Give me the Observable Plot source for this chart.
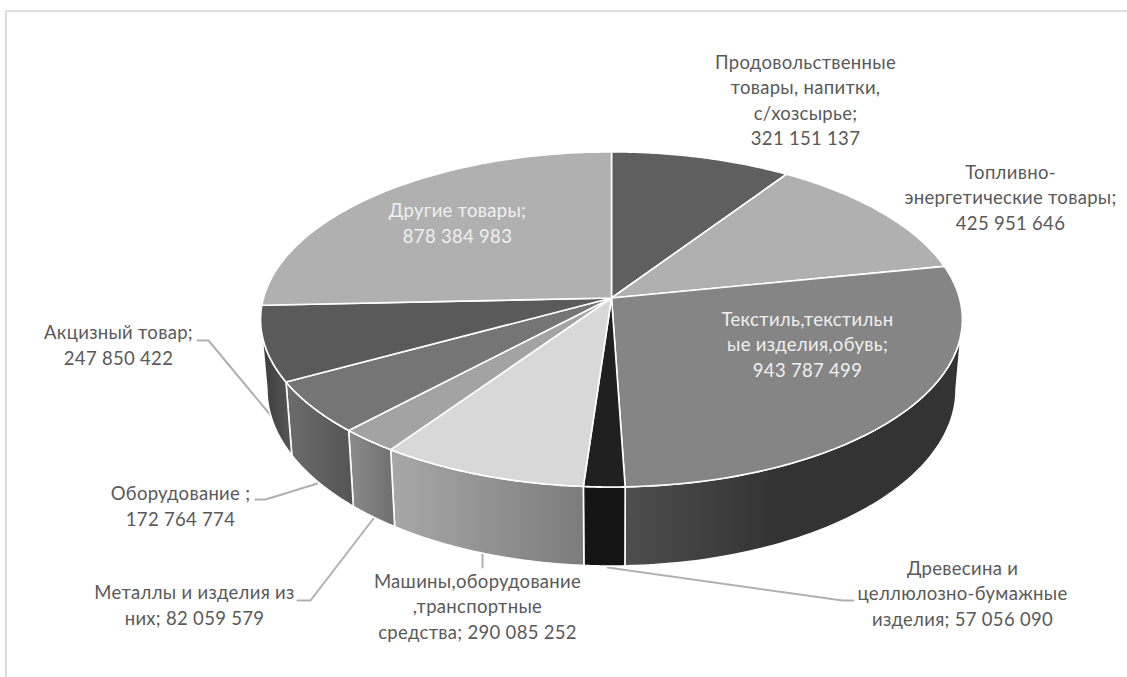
<!DOCTYPE html>
<html><head><meta charset="utf-8">
<script src="https://cdn.jsdelivr.net/npm/d3@7"></script>
<script src="https://cdn.jsdelivr.net/npm/@observablehq/plot@0.6"></script>
<style>html,body{margin:0;padding:0;background:#fff}svg{display:block}</style>
</head><body><div id="chart"></div>
<script>
const categories = ["Продовольственные\nтовары, напитки,\nс/хозсырье;","Топливно-\nэнергетические товары;","Текстиль,текстильн\nые изделия,обувь;","Древесина и\nцеллюлозно-бумажные\nизделия;","Машины,оборудование\n,транспортные\nсредства;","Металлы и изделия из\nних;","Оборудование ;","Акцизный товар;","Другие товары;"];
const values = [321151137,425951646,943787499,57056090,290085252,82059579,172764774,247850422,878384983];
const valueLabels = ["321 151 137","425 951 646","943 787 499","57 056 090","290 085 252","82 059 579","172 764 774","247 850 422","878 384 983"];
const joinWithBreak = [true,true,true,false,false,false,true,true,true];
const topColors = ["#5f5f5f","#b0b0b0","#858585","#202020","#d8d8d8","#a3a3a3","#757575","#5a5a5a","#b0b0b0"];
const wallStart = ["#5f5f5f","#b0b0b0","#4e4e4e","#141414","#a8a8a8","#8c8c8c","#6c6c6c","#3c3c3c","#b0b0b0"];
const wallEnd = ["#5f5f5f","#b0b0b0","#333333","#141414","#7c7c7c","#6e6e6e","#555555","#565656","#b0b0b0"];
const labelColors = ["#595959","#595959","#f0f0f0","#595959","#595959","#595959","#595959","#595959","#f0f0f0"];

// layout, in picture pixels, converted to scale units below
const cx = 611, cy = 297.5, A = 348, B = 164.8, K = 0.128;
const ux = X => (X - cx) / A, uy = Y => (Y - cy) / B;
const labelCentres = [[805,98.5],[1010,195.5],[807,342.5],[962,591.5],[477,604.5],[194,603.5],[180,504.5],[118,343.5],[457,221.5]];
const leaders = [
  [],[],[],
  [[607,567],[842,600],[853,600]],
  [[482,553],[482,567]],
  [[297,600],[310,600],[373,518]],
  [[255,499],[265,499],[317,483]],
  [[197,340],[208,340],[272,417]],
  []
];

const arcs = d3.pie().sort(null).startAngle(0).endAngle(2 * Math.PI)(values);
const project = t => {
  const u = Math.sin(t), v = -Math.cos(t), d = 1 - K * v;
  return {x: u / d, y: v / d};
};
const lower = p => ({x: p.x * 0.982, y: p.y * 1.0546 + 0.417});
const rim = (a0, a1) => d3.range(0, 61).map(i => project(a0 + (a1 - a0) * i / 60));
// the silhouette of the disc: where the rim's horizontal extent peaks
const tangentRight = Math.acos(-K), tangentLeft = 2 * Math.PI - tangentRight;

const topPts = [], wallPts = [];
arcs.forEach((a, i) => {
  const r = rim(a.startAngle, a.endAngle);
  [{x: 0, y: 0}, ...r].forEach(p => topPts.push({...p, id: i, fill: topColors[i]}));
  const a0 = Math.max(a.startAngle, tangentRight), a1 = Math.min(a.endAngle, tangentLeft);
  if (a1 > a0) {
    const w = rim(a0, a1);
    [...w, ...w.map(lower).reverse()].forEach(p => wallPts.push({...p, id: i, fill: `url(#wall${i})`}));
  }
});

const defs = () => {
  const ns = "http://www.w3.org/2000/svg";
  const d = document.createElementNS(ns, "defs");
  values.forEach((_, i) => {
    const g = document.createElementNS(ns, "linearGradient");
    g.setAttribute("id", `wall${i}`);
    [[0, wallStart[i]], [i === 2 ? 0.45 : 1, wallEnd[i]], [1, wallEnd[i]]].forEach(([o, c]) => {
      const s = document.createElementNS(ns, "stop");
      s.setAttribute("offset", o); s.setAttribute("stop-color", c);
      g.appendChild(s);
    });
    d.appendChild(g);
  });
  return d;
};

const labelRows = categories.map((c, i) => ({
  text: c + (joinWithBreak[i] ? "\n" : " ") + valueLabels[i],
  x: ux(labelCentres[i][0]), y: uy(labelCentres[i][1]), color: labelColors[i]
}));
const leaderPts = leaders.flatMap((l, i) => l.map(([X, Y]) => ({x: ux(X), y: uy(Y), id: i})));

const plot = Plot.plot({
  width: 1127, height: 677, margin: 0,
  style: {fontFamily: "Lato, sans-serif", background: "#fff", letterSpacing: "0.3px"},
  x: {axis: null, domain: [-1, 1], range: [cx - A, cx + A]},
  y: {axis: null, domain: [-1, 1], range: [cy - B, cy + B]},
  marks: [
    defs,
    Plot.ruleX([ux(5.5)], {y1: uy(10), y2: uy(677), stroke: "#dddddd", strokeWidth: 2}),
    Plot.ruleY([uy(10.5)], {x1: ux(5), x2: ux(1127), stroke: "#dddddd", strokeWidth: 2}),
    Plot.line(leaderPts, {x: "x", y: "y", z: "id", stroke: "#b0b0b0", strokeWidth: 2}),
    Plot.line(wallPts, {x: "x", y: "y", z: "id", fill: {value: "fill", scale: null}, stroke: "#fff", strokeWidth: 1.6, curve: "linear-closed"}),
    Plot.line(topPts, {x: "x", y: "y", z: "id", fill: {value: "fill", scale: null}, stroke: "#fff", strokeWidth: 1.6, strokeLinejoin: "round", curve: "linear-closed"}),
    Plot.text(labelRows, {x: "x", y: "y", text: "text", fill: {value: "color", scale: null}, fontSize: 18.5, lineHeight: 1.38, textAnchor: "middle", lineAnchor: "middle"})
  ]
});
document.getElementById("chart").appendChild(plot);
</script></body></html>
